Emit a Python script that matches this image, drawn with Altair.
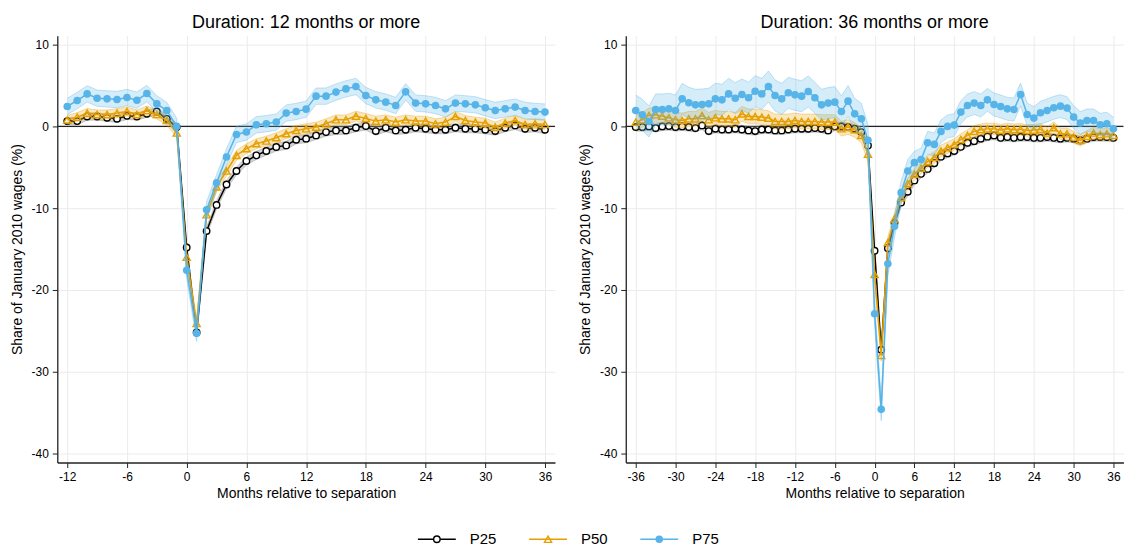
import altair as alt
import pandas as pd

series_names = ["P25", "P50", "P75"]
colors = ["#000000", "#E69F00", "#56B4E9"]
band_colors = ["#7f7f7f", "#E69F00", "#56B4E9"]

months_left = list(range(-12, 37))
months_right = list(range(-36, 37))

left_p25 = [0.65, 0.65, 1.22, 1.22, 1.06, 0.93, 1.3, 1.22, 1.55, 1.83, 0.93, -0.08,
            -14.8, -25.2, -12.8, -9.6, -7.1, -5.45, -4.23, -3.54, -3.01, -2.52, -2.32, -1.63,
            -1.5, -1.1, -0.69, -0.49, -0.49, -0.16, 0.05, -0.57, -0.16, -0.49, -0.41, -0.16,
            -0.28, -0.41, -0.41, -0.16, -0.28, -0.28, -0.41, -0.57, -0.16, 0.12, -0.28, -0.16, -0.41]
left_p50 = [0.8, 1.14, 1.63, 1.46, 1.46, 1.63, 1.83, 1.46, 1.95, 1.46, 0.73, -0.8,
            -16.0, -24.1, -10.8, -7.4, -5.45, -3.54, -2.72, -2.11, -1.79, -1.38, -0.89, -0.49,
            -0.28, -0.08, 0.33, 0.81, 0.81, 1.26, 0.98, 0.65, 0.81, 0.53, 0.81, 0.65,
            0.65, 0.33, 0.53, 1.22, 0.73, 0.53, 0.41, -0.08, 0.41, 0.73, 0.24, 0.33, 0.24]
left_p75 = [2.44, 3.17, 3.98, 3.45, 3.37, 3.29, 3.54, 3.21, 4.02, 2.76, 1.95, 0.0,
            -17.6, -25.3, -10.2, -6.9, -3.74, -0.98, -0.69, 0.2, 0.33, 0.53, 1.63, 1.83,
            2.11, 3.7, 3.7, 4.2, 4.59, 4.88, 3.78, 3.25, 2.97, 2.56, 4.23, 2.85,
            2.76, 2.56, 2.15, 2.85, 2.76, 2.64, 2.28, 1.95, 2.15, 2.36, 1.95, 1.83, 1.75]

right_p25 = [-0.08, -0.08, 0.0, -0.2, 0.0, 0.04, -0.08, 0.0, -0.08, -0.2, 0.12, -0.57,
             -0.28, -0.37, -0.37, -0.28, -0.37, -0.49, -0.57, -0.37, -0.37, -0.49, -0.49, -0.37,
             -0.28, -0.28, -0.28, -0.2, -0.28, -0.49, 0.0, 0.0, -0.08, -0.28, -0.69, -2.32,
             -15.2, -27.3, -14.9, -11.8, -9.3, -8.0, -6.6, -5.8, -5.2, -4.5, -3.7, -3.3,
             -3.0, -2.5, -2.0, -1.8, -1.5, -1.25, -1.1, -1.4, -1.3, -1.4, -1.3, -1.3,
             -1.4, -1.4, -1.3, -1.4, -1.5, -1.4, -1.5, -1.7, -1.5, -1.3, -1.3, -1.3, -1.4]
right_p50 = [0.53, 0.81, 1.34, 1.42, 1.26, 1.06, 0.81, 0.73, 0.93, 0.93, 1.34, 0.81,
             1.06, 0.93, 0.93, 0.81, 1.54, 1.22, 1.22, 1.14, 1.02, 0.61, 0.61, 0.61,
             0.73, 0.61, 0.61, 0.61, 0.53, 0.53, 0.53, -0.28, -0.08, -0.41, -1.1, -3.4,
             -18.1, -28.0, -14.2, -11.3, -8.7, -7.0, -5.85, -5.1, -4.3, -3.8, -3.0, -2.6,
             -2.2, -1.6, -1.1, -0.6, -0.4, -0.3, -0.3, -0.45, -0.3, -0.4, -0.35, -0.5,
             -0.45, -0.35, -0.8, -0.15, -0.9, -0.9, -1.3, -1.7, -1.2, -0.8, -1.0, -0.9, -1.1]
right_p75 = [1.95, 1.42, 0.61, 2.07, 2.07, 2.15, 1.95, 3.37, 2.89, 2.64, 2.68, 2.76,
             3.37, 3.25, 3.98, 3.45, 3.9, 3.5, 4.31, 3.98, 4.88, 3.78, 3.37, 4.11,
             3.86, 3.7, 4.27, 3.5, 2.64, 2.85, 2.97, 1.83, 3.09, 1.54, 0.93, -1.7,
             -22.9, -34.6, -16.8, -12.2, -8.1, -5.45, -4.43, -4.06, -2.0, -2.2, -0.61, 0.0,
             0.16, 1.75, 2.56, 2.85, 2.56, 3.25, 2.68, 2.44, 2.15, 2.07, 3.9, 1.46,
             1.02, 1.67, 1.95, 2.28, 2.48, 2.24, 1.14, 0.41, 0.73, 0.73, 0.2, 0.33, -0.28]

# 95% CI half-widths (before separation, from separation on)
ci_left = {"P25": [0.45, 0.5], "P50": [0.55, 0.6], "P75": [1.0, 1.0]}
ci_right = {"P25": [0.5, 0.5], "P50": [0.9, 0.7], "P75": [1.9, 1.4]}

panels = [
    ("12", "Duration: 12 months or more", months_left,
     {"P25": left_p25, "P50": left_p50, "P75": left_p75}, ci_left,
     [-13, 37], list(range(-12, 37, 6))),
    ("36", "Duration: 36 months or more", months_right,
     {"P25": right_p25, "P50": right_p50, "P75": right_p75}, ci_right,
     [-37.5, 37.5], list(range(-36, 37, 6))),
]

rows = []
for key, _, months, vals, ci, _, _ in panels:
    for s in series_names:
        assert len(vals[s]) == len(months), (key, s, len(vals[s]))
        for m, v in zip(months, vals[s]):
            hw = ci[s][0] if m < 0 else ci[s][1]
            rows.append({"panel": key, "series": s, "month": m, "value": v,
                         "lo": v - hw, "hi": v + hw})
df = pd.DataFrame(rows)

FONT = "Liberation Sans"
W, H = 499, 428
LABEL_EXPR = "'' + datum.value"


def marker(s, chart, x, y):
    if s == "P25":
        return chart.mark_point(shape="circle", filled=True, fill="white", stroke="black",
                                strokeWidth=1.4, size=42, opacity=1).encode(x=x, y=y)
    if s == "P50":
        return chart.mark_point(shape="triangle-up", filled=False, color="#E69F00",
                                strokeWidth=1.4, size=52, opacity=1).encode(x=x, y=y)
    return chart.mark_circle(color="#56B4E9", size=58, opacity=1).encode(x=x, y=y)


def panel(key, title, xdom, xticks):
    d = df[df.panel == key]
    xs = alt.Scale(domain=xdom, nice=False, zero=False)
    ys = alt.Scale(domain=[-41.1, 11.1], nice=False, zero=False)
    x = alt.X("month:Q", scale=xs,
              axis=alt.Axis(values=xticks, title="Months relative to separation",
                            labelExpr=LABEL_EXPR))
    yax = alt.Axis(values=[-40, -30, -20, -10, 0, 10], title="Share of January 2010 wages (%)",
                   labelExpr=LABEL_EXPR)

    def Y(f):
        return alt.Y(f + ":Q", scale=ys, axis=yax)

    layers = [alt.Chart(pd.DataFrame({"z": [0]})).mark_rule(color="#222", strokeWidth=1.3)
              .encode(y=alt.Y("z:Q", scale=ys, axis=yax))]
    for s, c, bc in zip(series_names, colors, band_colors):
        base = alt.Chart(d).transform_filter(alt.datum.series == s)
        bop = 0.35 if s == "P25" else 0.25
        layers.append(base.mark_area(color=bc, opacity=bop).encode(x=x, y=Y("lo"), y2="hi:Q"))
        layers.append(base.mark_line(color=bc, opacity=0.35, strokeWidth=1).encode(x=x, y=Y("lo")))
        layers.append(base.mark_line(color=bc, opacity=0.35, strokeWidth=1).encode(x=x, y=Y("hi")))
        layers.append(base.mark_line(color=c, strokeWidth=1.5).encode(x=x, y=Y("value")))
        layers.append(marker(s, base, x, Y("value")))
    return alt.layer(*layers).properties(width=W, height=H, title=title)


left = panel("12", panels[0][1], panels[0][5], panels[0][6])
right = panel("36", panels[1][1], panels[1][5], panels[1][6])

# legend
leg = pd.DataFrame({"series": series_names})
lx = alt.X("series:N", scale=alt.Scale(type="point", domain=series_names, padding=0.426, align=0.05),
           axis=None)
ly = alt.Y("k:Q", scale=alt.Scale(domain=[0, 1]), axis=None)
lbase = alt.Chart(leg).transform_calculate(k="0.5")
leg_layers = [
    lbase.mark_point(shape="stroke", size=1444, strokeWidth=1.5, filled=False, opacity=1)
    .encode(x=lx, y=ly, color=alt.Color("series:N", scale=alt.Scale(domain=series_names, range=colors), legend=None)),
]
for s in series_names:
    leg_layers.append(marker(s, lbase.transform_filter(alt.datum.series == s), lx, ly))
leg_layers.append(lbase.mark_text(align="left", dx=33, fontSize=15, font=FONT, color="black")
                  .encode(x=lx, y=ly, text="series:N"))
legend = alt.layer(*leg_layers).properties(width=318, height=20)

chart = alt.vconcat(
    alt.hconcat(left, right, spacing=21),
    legend,
    spacing=27, center=True,
).properties(
    padding={"left": 1, "right": 0, "top": 4, "bottom": 0}
).configure_view(
    stroke="transparent"
).configure_axis(
    domainColor="#222", domainWidth=1.3, tickColor="#222", tickSize=5,
    labelFontSize=12, labelColor="black", labelFont=FONT, labelPadding=4,
    titleFontSize=14, titleFontWeight="normal", titleColor="black", titleFont=FONT,
    gridColor="#ebebeb", gridWidth=1,
).configure_axisX(titlePadding=4).configure_axisY(titlePadding=7).configure_title(
    fontSize=18, font=FONT, fontWeight="normal", anchor="middle", offset=4, color="black"
)

chart.save("out.html", embed_options={"renderer": "svg", "actions": False})
